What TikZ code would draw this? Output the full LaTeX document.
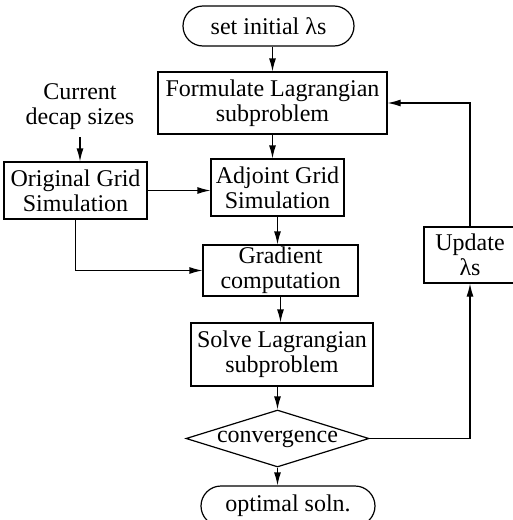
\documentclass[tikz,border=0pt]{standalone}
\usepackage{fontspec}
\setmainfont{Liberation Serif}
\usetikzlibrary{arrows.meta,shapes.geometric}

\begin{document}
\begin{tikzpicture}[x=0.5pt, y=-0.5pt, line width=0.6pt,
  >={Latex[length=6.5pt,width=3.5pt]},
  every node/.style={font=\fontsize{12}{12.5}\selectfont, align=center},
  box/.style={draw, rectangle, inner sep=1pt},
  term/.style={draw, rectangle, rounded corners=10pt, minimum height=20pt, inner sep=1pt},
  decision/.style={draw, diamond, aspect=3.2, inner sep=0pt, minimum width=91.5pt, minimum height=28.5pt}]
  \useasboundingbox (0,0) rectangle (513,520);

  \node[term, minimum width=85.5pt] (start) at (268.5,26) {set initial λs};
  \node[box, minimum width=114.5pt, minimum height=31pt] (formulate) at (272.5,103) {Formulate Lagrangian\\subproblem};
  \node (decap) at (80,107) {Current\\decap sizes};
  \node[box, minimum width=71.5pt, minimum height=28.5pt] (orig) at (75.5,190.5) {Original Grid\\Simulation};
  \node[box, minimum width=66.5pt, minimum height=28.5pt] (adjoint) at (277.5,187.5) {Adjoint Grid\\Simulation};
  \node[box, minimum width=77.5pt, minimum height=25.5pt] (gradient) at (280.5,270.5) {Gradient\\computation};
  \node[box, minimum width=91pt, minimum height=31.5pt] (solve) at (282,354.5) {Solve Lagrangian\\subproblem};
  \node[decision] (conv) at (277.5,438.5) {convergence};
  \node[term, minimum width=87pt] (end) at (288,506) {optimal soln.};
  \node[box, minimum width=46pt, minimum height=28pt] (update) at (470,255) {Update\\λs};

  \draw[->] (start.south -| formulate) -- (formulate.north);
  \draw[->] (formulate.south) -- (formulate.south |- adjoint.north);
  \draw[->] (adjoint.south) -- (adjoint.south |- gradient.north);
  \draw[->] (gradient.south) -- (gradient.south |- solve.north);
  \draw[->] (solve.south -| conv.north) -- (conv.north);
  \draw[->] (conv.south) -- (conv.south |- end.north);
  \draw[->] (decap.south) -- (decap.south |- orig.north);
  \draw[->] (orig.east) -- (orig.east -| adjoint.west);
  \draw[->] (orig.south) |- (gradient.west);
  \draw[->] (conv.east) -| (update.south);
  \draw[->] (update.north) |- (formulate.east);
\end{tikzpicture}
\end{document}
